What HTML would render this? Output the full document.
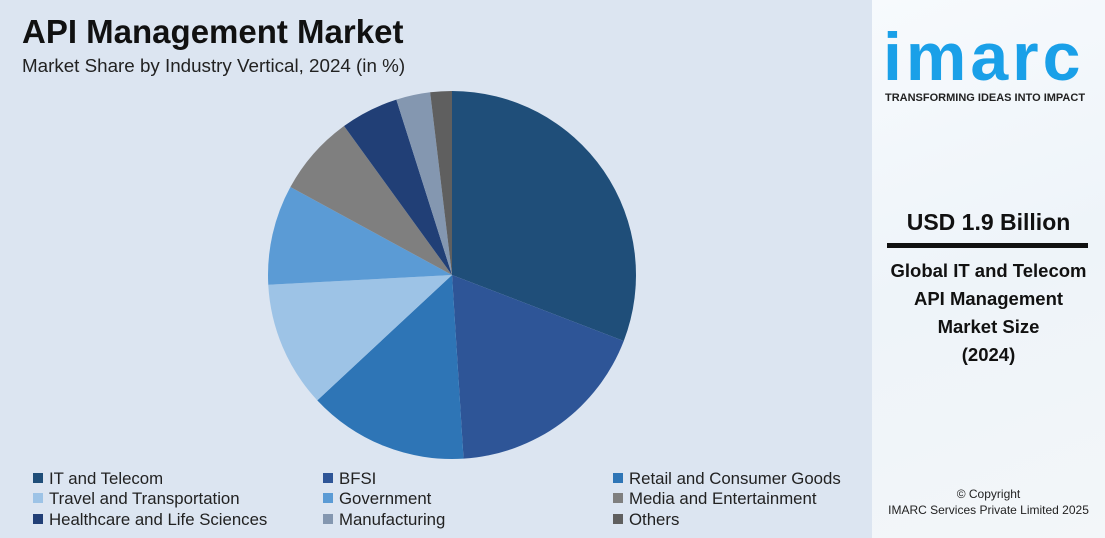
<!DOCTYPE html>
<html><head><meta charset="utf-8"><style>
body{margin:0;width:1105px;height:538px;overflow:hidden;font-family:"Liberation Sans",sans-serif;}
#left{position:absolute;left:0;top:0;width:872px;height:538px;background:#dce5f1;}
#right{position:absolute;left:872px;top:0;width:233px;height:538px;background:linear-gradient(160deg,#f7fafd 0%,#eef4f9 50%,#f3f6f9 100%);}
.t{position:absolute;white-space:nowrap;}
.leg{position:absolute;font-size:16.8px;color:#222;white-space:nowrap;}
.leg span{display:inline-block;width:10px;height:10px;margin-right:6px;vertical-align:1px;}
</style></head><body>
<div id="left">
<div class="t" style="left:22px;top:13px;font-size:33px;font-weight:bold;color:#111;">API Management Market</div>
<div class="t" style="left:22px;top:55px;font-size:18.8px;color:#222;">Market Share by Industry Vertical, 2024 (in %)</div>
<svg id="pie" width="872" height="538" style="position:absolute;left:0;top:0"></svg>
<div id="legend"></div>
</div>
<div id="right">
<div class="t" style="left:11px;top:18px;font-size:68px;font-weight:bold;color:#1aa0e8;letter-spacing:4px;">imarc</div>
<div class="t" style="left:13px;top:92px;font-size:11px;font-weight:bold;color:#222;">TRANSFORMING IDEAS INTO IMPACT</div>
<div class="t" style="left:0;width:233px;text-align:center;top:209px;font-size:23px;font-weight:bold;color:#111;">USD 1.9 Billion</div>
<div style="position:absolute;left:15px;top:243px;width:201px;height:5px;background:#111;"></div>
<div class="t" style="left:0;width:233px;text-align:center;top:257px;font-size:18.5px;font-weight:bold;color:#111;line-height:28px;">Global IT and Telecom<br>API Management<br>Market Size<br>(2024)</div>
<div class="t" style="left:0;width:233px;text-align:center;top:486px;font-size:12px;color:#222;line-height:16px;">© Copyright<br>IMARC Services Private Limited 2025</div>
</div>
<script>
const categories=["IT and Telecom","BFSI","Retail and Consumer Goods","Travel and Transportation","Government","Media and Entertainment","Healthcare and Life Sciences","Manufacturing","Others"];
const shares=[30.9,18.2,14.1,11.1,8.8,7.1,5.1,3.0,1.9];
const colors=["#1f4e79","#2e5597","#2e75b6","#9dc3e6","#5b9bd5","#7f7f7f","#213f76","#8497b0","#5f5f5f"];
const svg=document.getElementById('pie');
const cx=452,cy=275,r=184;
const total=shares.reduce((a,b)=>a+b,0);
let a0=0;
function pt(a){return [cx+r*Math.sin(a),cy-r*Math.cos(a)];}
shares.forEach((v,i)=>{
 const a1=a0+v/total*2*Math.PI;
 const p0=pt(a0),p1=pt(a1);
 const large=(a1-a0)>Math.PI?1:0;
 const p=document.createElementNS('http://www.w3.org/2000/svg','path');
 p.setAttribute('d',`M${cx},${cy}L${p0[0]},${p0[1]}A${r},${r} 0 ${large} 1 ${p1[0]},${p1[1]}Z`);
 p.setAttribute('fill',colors[i]);
 
 
 svg.appendChild(p);
 a0=a1;
});
const leg=document.getElementById('legend');
const xs=[33,323,613],ys=[469,489,510];
categories.forEach((c,i)=>{
 const d=document.createElement('div');
 d.className='leg';
 d.style.left=xs[i%3]+'px';d.style.top=ys[Math.floor(i/3)]+'px';
 d.innerHTML=`<span style="background:${colors[i]}"></span>${c}`;
 
 
 leg.appendChild(d);
});
</script>
</body></html>
